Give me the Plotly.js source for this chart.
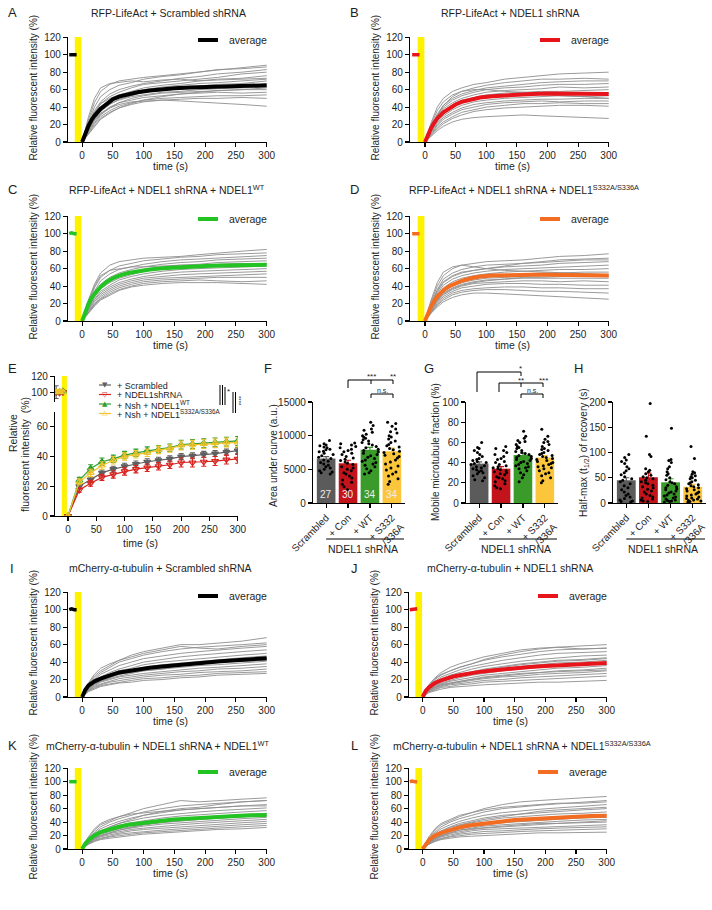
<!DOCTYPE html>
<html><head><meta charset="utf-8">
<script src="https://cdn.plot.ly/plotly-3.0.1.min.js"></script>
<style>html,body{margin:0;padding:0;background:#fff}#chart{width:712px;height:910px}</style>
</head><body><div id="chart"></div>
<script>
// ---------- DATA ----------
const T  = [0,10,20,30,45,60,80,100,130,160,190,220,260,300];
const TA = [0,5,10,15,20,30,40,50,60,75,90,110,130,150,175,200,225,250,275,300];
const preT = [-21,-17,-13,-9];

const A_traces = [
 [0,25,45,58,66,70,72,74,76,78,80,82,85,88],
 [0,22,40,52,60,65,68,72,75,77,80,83,84,86],
 [0,20,36,46,55,60,64,67,70,73,75,78,80,83],
 [0,18,33,44,52,57,62,66,68,70,72,74,78,80],
 [0,17,30,40,48,54,58,62,65,67,70,72,73,76],
 [0,15,28,38,46,52,56,60,63,65,67,68,70,72],
 [0,20,34,44,50,54,57,59,61,63,64,66,67,70],
 [0,14,26,35,43,49,53,57,59,61,62,64,65,66],
 [0,16,28,37,44,48,52,54,57,58,60,61,62,63],
 [0,12,22,31,39,45,50,53,56,57,58,59,60,60],
 [0,13,24,32,40,45,48,51,53,55,56,57,56,57],
 [0,11,21,29,36,41,45,48,50,51,52,53,53,54],
 [0,10,19,27,34,39,43,46,48,49,50,50,51,50],
 [0,14,25,33,39,43,46,47,48,47,46,45,43,41],
 [0,28,50,62,67,68,70,69,71,72,70,71,72,73],
 [0,9,18,26,33,39,44,48,52,55,57,59,60,62]
];
const A_avg = [0,10,18,25,30,38,44,49,52,55,57,59,60.5,61.5,62.5,63,63.5,64,64.5,65];
const A_pre = [100,100,101,100];

const B_traces = [
 [0,22,40,50,58,62,66,68,72,74,76,78,79,80],
 [0,20,36,46,54,58,62,65,68,70,72,72,73,72],
 [0,18,32,42,50,55,59,62,64,66,68,69,70,70],
 [0,17,30,40,48,53,57,60,62,63,65,66,66,67],
 [0,15,28,38,45,50,54,57,59,60,61,63,62,63],
 [0,14,26,35,43,48,51,54,56,57,58,58,59,60],
 [0,13,24,33,40,45,49,52,53,55,55,56,56,56],
 [0,12,22,30,37,42,46,48,50,51,52,53,52,53],
 [0,11,20,28,34,39,43,45,47,48,49,49,50,50],
 [0,10,19,26,32,37,40,43,45,46,47,46,47,47],
 [0,9,17,23,29,34,37,40,42,44,44,45,44,44],
 [0,8,15,21,27,31,35,37,39,40,41,42,42,41],
 [0,7,13,18,23,26,28,29,30,31,30,29,28,27],
 [0,16,30,42,52,58,60,60,58,57,55,53,52,50]
];
const B_avg = [0,9,16,22,27,34,39,43,46,49,51,52.5,53.5,54,55,55.5,55.5,55.5,55,55];
const B_pre = [100,100,99,100];

const C_traces = [
 [0,24,42,55,64,68,70,72,73,74,76,78,80,82],
 [0,20,38,50,58,63,66,69,71,73,74,76,77,78],
 [0,18,34,46,54,59,62,65,68,70,71,72,74,75],
 [0,17,31,42,50,55,59,62,65,67,68,70,71,72],
 [0,16,29,39,47,52,56,59,62,64,65,67,68,69],
 [0,15,27,37,44,49,53,57,60,62,63,64,65,66],
 [0,14,25,34,41,47,51,54,57,59,60,61,62,63],
 [0,13,24,32,39,44,48,51,54,56,57,58,59,60],
 [0,12,22,30,37,42,46,49,51,53,54,55,56,57],
 [0,11,20,28,35,40,44,47,49,50,51,52,53,54],
 [0,10,19,26,33,38,42,45,47,48,49,50,50,50],
 [0,10,18,25,31,36,40,43,45,46,47,46,45,46],
 [0,9,17,24,30,35,39,41,43,44,44,44,43,42],
 [0,22,40,52,58,60,62,62,63,64,64,65,66,65]
];
const C_avg = [0,11,19,26,31,39,45,49,52,55,57,59,60.5,61.5,62,63,63.5,64,64,64.5];
const C_pre = [100,101,100,100];

const D_traces = [
 [0,22,40,52,60,64,66,68,69,70,72,74,75,77],
 [0,20,36,48,55,59,62,64,65,66,68,70,71,72],
 [0,18,33,44,51,55,58,60,62,63,64,66,67,68],
 [0,17,31,41,48,52,55,57,59,60,61,62,63,64],
 [0,16,29,38,45,49,52,54,56,57,58,59,59,60],
 [0,15,27,36,42,46,49,51,53,54,55,55,56,56],
 [0,14,25,34,40,44,47,49,50,51,52,52,52,53],
 [0,13,24,32,38,42,45,47,48,49,49,49,49,49],
 [0,12,22,30,36,40,43,44,45,46,46,45,46,45],
 [0,11,20,28,34,38,40,42,43,43,42,42,41,41],
 [0,10,19,26,32,35,37,38,39,39,38,38,37,37],
 [0,10,18,24,30,33,35,36,36,35,34,34,33,32],
 [0,9,16,22,27,30,32,32,31,30,29,28,27,25],
 [0,24,44,56,62,64,62,60,58,57,56,55,54,53],
 [0,19,35,45,52,56,58,60,63,66,67,68,70,70],
 [0,13,23,31,37,41,44,46,48,50,50,51,52,51]
];
const D_avg = [0,9,17,23,28,35,40,43,46,49,51,52,52.5,53,53,53,52.5,52.5,52,52];
const D_pre = [100,100,99,100];

const I_traces = [
 [0,15,24,30,36,42,48,52,56,60,60,62,64,68],
 [0,14,22,28,34,40,44,48,52,55,57,58,60,62],
 [0,12,20,26,31,36,40,44,47,50,52,54,56,58],
 [0,11,18,23,28,32,36,40,43,46,48,50,52,54],
 [0,10,17,21,26,30,33,37,40,42,44,46,48,50],
 [0,10,16,20,24,28,31,34,37,39,41,43,45,47],
 [0,9,15,19,23,26,29,32,34,36,38,40,42,44],
 [0,9,14,18,21,24,27,30,32,34,36,37,39,41],
 [0,8,13,17,20,23,25,27,29,31,33,34,36,38],
 [0,8,12,15,18,21,23,25,27,29,30,32,33,35],
 [0,7,11,14,17,19,21,23,25,26,28,29,30,32],
 [0,7,10,13,15,17,19,21,22,24,25,27,28,29],
 [0,6,9,12,14,16,17,19,20,22,23,25,26,27],
 [0,16,26,33,38,42,46,50,54,58,56,55,58,60],
 [0,12,18,22,26,28,30,32,35,38,40,42,44,45],
 [0,10,15,18,22,26,28,30,32,36,38,40,41,42]
];
const I_avg = [0,8,13,16,18,21,24,26,28,30,32,33.5,35,36.5,38,39.5,41,42,43.5,44.5];
const I_pre = [100,101,100,100];

const J_traces = [
 [0,14,22,28,34,38,42,46,50,54,56,57,58,60],
 [0,12,20,25,30,34,38,42,46,49,52,54,55,56],
 [0,11,18,23,27,31,35,38,42,45,48,50,51,52],
 [0,10,16,21,25,28,32,35,38,41,43,45,47,48],
 [0,10,15,19,23,26,29,32,35,38,40,42,43,45],
 [0,9,14,18,21,24,27,30,32,35,37,39,40,42],
 [0,8,13,16,19,22,25,27,30,32,34,36,37,39],
 [0,8,12,15,18,20,23,25,27,29,31,33,34,36],
 [0,7,11,14,16,18,21,23,25,27,28,30,31,33],
 [0,7,10,13,15,17,19,21,23,24,26,27,28,30],
 [0,6,9,12,14,15,17,19,20,22,23,24,25,27],
 [0,6,8,11,12,14,15,17,18,19,20,21,22,24],
 [0,5,7,9,11,12,13,14,15,16,17,17,18,19],
 [0,13,21,26,30,34,38,43,48,52,55,57,55,56],
 [0,9,14,18,22,25,28,31,34,37,39,41,42,44],
 [0,8,11,14,16,18,20,22,24,26,28,29,30,31]
];
const J_avg = [0,7,11,14,16,19,21.5,23.5,25,27,28.5,30,31.5,33,34.5,35.5,36.5,37.5,38.5,39];
const J_pre = [100,100,100,101];

const K_traces = [
 [0,16,28,36,42,48,54,60,66,72,70,72,74,76],
 [0,14,25,33,40,45,50,55,60,64,66,68,70,72],
 [0,13,23,30,36,41,46,50,54,58,60,62,64,66],
 [0,12,21,27,33,38,42,46,50,53,55,57,59,61],
 [0,11,19,25,30,35,39,42,46,49,51,53,55,57],
 [0,10,18,23,28,32,36,39,42,45,47,49,51,53],
 [0,10,17,22,26,30,33,36,39,42,44,46,48,50],
 [0,9,16,20,24,28,31,34,37,39,41,43,45,47],
 [0,9,15,19,23,26,29,31,34,36,38,40,42,44],
 [0,8,14,18,21,24,27,29,31,33,35,37,39,41],
 [0,8,13,16,19,22,24,26,28,30,32,34,36,38],
 [0,7,12,15,18,20,22,24,26,28,30,31,33,35],
 [0,7,11,14,16,18,20,22,24,25,27,29,30,32],
 [0,18,30,38,44,48,52,54,56,58,60,62,64,64],
 [0,12,20,26,32,38,44,50,56,60,62,66,70,72],
 [0,10,16,20,24,28,32,36,40,42,44,46,48,49]
];
const K_avg = [0,8,13,17,20,25,28,31,33,36,38,40,42,44,45.5,47,48,49,50,50.5];
const K_pre = [100,100,101,100];

const L_traces = [
 [0,16,28,36,42,48,54,60,66,70,72,74,76,78],
 [0,14,25,33,40,45,50,55,60,63,65,67,70,72],
 [0,13,23,30,36,41,46,50,54,57,59,61,63,66],
 [0,12,21,27,33,38,42,46,50,52,54,56,58,60],
 [0,11,19,25,30,35,39,42,46,48,50,52,53,55],
 [0,10,18,23,28,32,36,39,42,44,46,48,49,51],
 [0,10,17,22,26,30,33,36,39,41,43,44,46,47],
 [0,9,16,20,24,28,31,34,36,38,40,41,43,44],
 [0,9,15,19,23,26,29,31,33,35,36,38,39,40],
 [0,8,14,18,21,24,27,29,30,32,33,34,35,36],
 [0,8,13,16,19,22,24,26,27,29,30,31,32,33],
 [0,7,12,15,18,20,22,23,25,26,27,28,29,30],
 [0,7,11,14,16,18,19,20,22,23,24,24,25,25],
 [0,18,30,38,44,50,54,58,62,64,66,68,68,70],
 [0,12,20,26,32,36,40,44,48,52,56,58,60,62],
 [0,10,16,20,24,28,30,32,34,36,38,38,40,42]
];
const L_avg = [0,8,13,17,20,24,27,30,32,35,37,39,41,43,44.5,46,47,48,49,49.5];
const L_pre = [100,101,100,100];

// Panel E (mean +/- SEM)
const E_T = [0,20,40,60,80,100,120,140,160,180,200,220,240,260,280,300];
const E_preT = [-21,-15,-9];
const E_scr = [0,20,24.5,29,31.5,33.5,35,36.5,37.5,38.5,40,40.5,41.5,42,43,44];
const E_scr_err = [0,1.5,2,2,2,2,2,2,2,2,2,2,2,2,2,2];
const E_scr_pre = [100,100,100]; const E_scr_pre_err = [8,2,1.5];
const E_con = [0,17.5,22,26,28,30,31.5,32.5,33.5,34.5,36,36,36.5,37,38,38.5];
const E_con_err = [0,1.5,2,2,2.5,2.5,2.5,2.5,2.5,2.5,3,3,3,3,3,3];
const E_con_pre = [100,99,100]; const E_con_pre_err = [1.5,1.5,1.5];
const E_wt = [0,24,32,36.5,38.5,41,42.5,44,45,46,48,48.5,49,49.5,50,50.5];
const E_wt_err = [0,2,2.5,2.5,2.5,2.5,2.5,2.5,2.5,2.5,3,3,3,3,3,3];
const E_wt_pre = [100,100,101]; const E_wt_pre_err = [1.5,1.5,1.5];
const E_mut = [0,23,29,34,37.5,40,41.5,42.5,44.5,45.5,47.5,48,48.5,49,49.5,49.5];
const E_mut_err = [0,2,2.5,2.5,2.5,2.5,2.5,2.5,2.5,2.5,3,3,3,3,3,3];
const E_mut_pre = [100,101,100]; const E_mut_pre_err = [1.5,1.5,1.5];
const E_ytick_lo = [0,20,40,60];
const E_ytick_hi = [100,120];

// Bar panels
const CATS = ['Scrambled','+ Con','+ WT','+ S332<br>/336A'];
const F_mean = [6600,5900,7900,7700];
const F_err  = [300,450,350,450];
const F_n    = ['27','30','34','34'];
const F_scr = [9300,8800,8600,8500,8300,8200,8000,7900,7700,7600,7400,7200,7000,6800,6600,6400,6200,6000,5800,5600,5400,5200,5000,4800,4600,4500,4300];
const F_con = [8900,8800,8600,8400,8200,8000,7800,7600,7400,7200,6900,6700,6500,6300,6100,5900,5700,5400,5200,5000,4800,4500,4300,4000,3700,3400,3100,2800,2400,2000];
const F_wt  = [12000,11500,11000,10800,10500,10200,10000,9800,9600,9400,9200,9000,8800,8600,8400,8200,8000,7800,7600,7400,7200,7000,6800,6600,6400,6200,6000,5800,5600,5400,5100,4800,4500,4300];
const F_mut = [12000,11800,11400,11000,10600,10400,10000,9800,9500,9200,9000,8700,8500,8300,8100,7900,7700,7500,7300,7100,6900,6700,6400,6100,5800,5500,5200,4900,4600,4300,4000,3600,3200,2800];

const G_mean = [39,34,47.5,45];
const G_err  = [1.8,2,2,2];
const G_scr = [60,55,54,52,50,48,46,44,43,42,41,40,39,38,37,36,35,34,33,32,31,30,29,27,25,23,22];
const G_con = [56,54,52,50,48,46,44,43,41,40,38,37,36,35,34,33,32,31,30,29,28,26,25,24,22,21,19,17,15,14];
const G_wt  = [71,66,64,62,61,60,58,56,55,54,52,51,50,49,48,47,46,45,44,43,42,41,40,39,38,37,36,35,34,32,30,28,25,21];
const G_mut = [73,66,63,61,60,58,56,54,53,52,50,49,48,47,46,45,44,43,42,41,40,39,38,37,36,35,34,32,30,29,27,25,22,20];

const H_mean = [45,51,41,32];
const H_err  = [5,8,7,5];
const H_scr = [96,90,85,82,78,72,68,64,60,56,52,48,45,42,38,34,30,26,22,18,15,12,9,6,4,3,2];
const H_con = [197,132,96,92,68,65,62,58,55,52,50,48,45,42,40,38,35,32,30,27,24,22,18,15,12,10,8,6,4,3];
const H_wt  = [220,148,86,84,80,72,68,62,58,55,50,46,42,40,38,35,32,30,28,26,24,22,20,18,16,14,12,10,8,6,5,4,3,2];
const H_mut = [112,88,62,60,57,54,52,50,48,45,42,40,38,36,34,32,30,28,26,24,22,20,18,16,14,12,10,9,8,6,5,4,3,2];

// ---------- DRAWING ----------
const W=712, H=910;
const FONT='Liberation Sans, Arial, Helvetica, sans-serif';
const TXT='#1e1e1e';
const px=x=>x/W, py=y=>1-y/H;
const ax=n=>n===1?'':String(n);
const data=[], shapes=[], annotations=[];
const layout={width:W,height:H,margin:{l:0,r:0,t:0,b:0},paper_bgcolor:'#fff',plot_bgcolor:'rgba(0,0,0,0)',
  showlegend:false,barmode:'overlay',font:{family:FONT,size:10,color:TXT}};

function baseAxis(o){return Object.assign({showline:true,linecolor:'#000',linewidth:1.1,ticks:'outside',ticklen:4,
  tickwidth:1.1,tickcolor:'#000',showgrid:false,zeroline:false,fixedrange:true,showticklabels:true,tickmode:'array',
  tickfont:{family:FONT,size:10,color:TXT}},o);}
function fnt(s,c){return {family:FONT,size:s,color:c||TXT};}
function text(x,y,t,o){annotations.push(Object.assign({xref:'paper',yref:'paper',x:px(x),y:py(y),text:t,showarrow:false,
  xanchor:'center',yanchor:'middle',font:fnt(10)},o||{}));}
function seg(x0,y0,x1,y1,o){shapes.push(Object.assign({type:'line',xref:'paper',yref:'paper',x0:px(x0),y0:py(y0),x1:px(x1),y1:py(y1),
  line:{color:'#000',width:1}},o||{}));}

const linePanels=[
 {k:1,L:'A',lx:12,title:'RFP-LifeAct + Scrambled shRNA',tx:168,ty:13,tr:A_traces,avg:A_avg,pre:A_pre,c:'#000000',xd:[68,267],xr:[-23,300.5],yd:[37,142],leg:[198,218,40]},
 {k:2,L:'B',lx:354,title:'RFP-LifeAct + NDEL1 shRNA',tx:510,ty:13,tr:B_traces,avg:B_avg,pre:B_pre,c:'#e8141b',xd:[410,609],xr:[-24.5,300.5],yd:[37,142],leg:[540,560,40]},
 {k:3,L:'C',lx:12,title:'RFP-LifeAct + NDEL1 shRNA + NDEL1<sup>WT</sup>',tx:167,ty:189,tr:C_traces,avg:C_avg,pre:C_pre,c:'#23c323',xd:[68,267],xr:[-23,300.5],yd:[216,321],leg:[198,218,219]},
 {k:4,L:'D',lx:354,title:'RFP-LifeAct + NDEL1 shRNA + NDEL1<sup>S332A/S336A</sup>',tx:524,ty:189,tr:D_traces,avg:D_avg,pre:D_pre,c:'#f26d21',xd:[410,609],xr:[-24.5,300.5],yd:[216,321],leg:[540,560,219]},
 {k:5,L:'I',lx:12,title:'mCherry-α-tubulin + Scrambled shRNA',tx:160,ty:568,tr:I_traces,avg:I_avg,pre:I_pre,c:'#000000',xd:[68,267],xr:[-23,300.5],yd:[592,697],leg:[198,218,596]},
 {k:6,L:'J',lx:354,title:'mCherry-α-tubulin + NDEL1 shRNA',tx:510,ty:568,tr:J_traces,avg:J_avg,pre:J_pre,c:'#e8141b',xd:[409,607],xr:[-22.3,300.5],yd:[592,697],leg:[538,558,596]},
 {k:7,L:'K',lx:12,title:'mCherry-α-tubulin + NDEL1 shRNA + NDEL1<sup>WT</sup>',tx:157,ty:745,tr:K_traces,avg:K_avg,pre:K_pre,c:'#23c323',xd:[68,267],xr:[-23,300.5],yd:[768,849],leg:[198,218,772]},
 {k:8,L:'L',lx:354,title:'mCherry-α-tubulin + NDEL1 shRNA + NDEL1<sup>S332A/S336A</sup>',tx:522,ty:745,tr:L_traces,avg:L_avg,pre:L_pre,c:'#f26d21',xd:[409,607],xr:[-22.3,300.5],yd:[768,849],leg:[538,558,772]}
];

linePanels.forEach(p=>{
  const k=p.k, xa='x'+ax(k), ya='y'+ax(k);
  layout['xaxis'+ax(k)]=baseAxis({domain:[px(p.xd[0]),px(p.xd[1])],range:p.xr,tickvals:[0,50,100,150,200,250,300],anchor:ya});
  layout['yaxis'+ax(k)]=baseAxis({domain:[py(p.yd[1]),py(p.yd[0])],range:[0,120.3],tickvals:[0,20,40,60,80,100,120],anchor:xa});
  shapes.push({type:'rect',xref:xa,yref:ya,x0:-12,x1:-1,y0:0,y1:120.3,fillcolor:'#fff200',line:{width:0},layer:'below'});
  p.tr.forEach(tr=>data.push({type:'scatter',mode:'lines',x:T,y:tr,xaxis:xa,yaxis:ya,line:{color:'#8f8f8f',width:0.9},hoverinfo:'skip'}));
  data.push({type:'scatter',mode:'lines',x:TA,y:p.avg,xaxis:xa,yaxis:ya,line:{color:p.c,width:4},hoverinfo:'skip'});
  data.push({type:'scatter',mode:'lines',x:preT,y:p.pre,xaxis:xa,yaxis:ya,line:{color:p.c,width:3.5},hoverinfo:'skip'});
  text(p.lx,p.ty,p.L,{font:fnt(13)});
  text(p.tx,p.ty,p.title,{font:fnt(10.5)});
  text(p.xd[0]-35,(p.yd[0]+p.yd[1])/2-2,'Relative fluorescent intensity (%)',{textangle:-90,font:fnt(10)});
  text((p.xd[0]+p.xd[1])/2+3,p.yd[1]+24,'time (s)',{font:fnt(10.5)});
  seg(p.leg[0],p.leg[2],p.leg[1],p.leg[2],{line:{color:p.c,width:4}});
  text(p.leg[1]+9,p.leg[2],'average',{xanchor:'left',font:fnt(10.5)});
});

// ---- Panel E (broken y axis): lower subplot x20/y20, upper subplot x21/y21 ----
const E_XD=[px(55),px(238)], E_XR=[-23,300.5];
layout.xaxis20=baseAxis({domain:E_XD,range:E_XR,tickvals:[0,50,100,150,200,250,300],anchor:'y20'});
layout.yaxis20=baseAxis({domain:[py(516),py(412)],range:[0,70],tickvals:E_ytick_lo,ticktext:E_ytick_lo.map(String),anchor:'x20'});
layout.xaxis21=baseAxis({domain:E_XD,range:E_XR,visible:false,anchor:'y21'});
layout.yaxis21=baseAxis({domain:[py(402),py(376)],range:[87.5,120.3],tickvals:E_ytick_hi,ticktext:E_ytick_hi.map(String),anchor:'x21'});
shapes.push({type:'rect',xref:'x20',yref:'paper',x0:-11,x1:-2,y0:py(516),y1:py(376),fillcolor:'#fff200',line:{width:0},layer:'below'});
const Eser=[
 {pre:E_scr_pre,pe:E_scr_pre_err,v:E_scr,e:E_scr_err,c:'#5f5f5f',sym:'triangle-down',name:'+ Scrambled',g:'▼'},
 {pre:E_con_pre,pe:E_con_pre_err,v:E_con,e:E_con_err,c:'#d9231f',sym:'triangle-down-open',name:'+ NDEL1shRNA',g:'▽'},
 {pre:E_wt_pre,pe:E_wt_pre_err,v:E_wt,e:E_wt_err,c:'#2f9e2f',sym:'triangle-up',name:'+ Nsh + NDEL1<sup>WT</sup>',g:'▲'},
 {pre:E_mut_pre,pe:E_mut_pre_err,v:E_mut,e:E_mut_err,c:'#f0c22c',sym:'triangle-up-open',name:'+ Nsh + NDEL1<sup>S332A/S336A</sup>',g:'△'}
];
const legRows=[385,394.5,404,413.5];
Eser.forEach((s,i)=>{
  [['x20','y20'],['x21','y21']].forEach(([xa,ya])=>{
    data.push({type:'scatter',mode:'lines+markers',x:E_preT.concat([null],E_T),y:s.pre.concat([null],s.v),
      xaxis:xa,yaxis:ya,line:{color:s.c,width:1.2},marker:{symbol:s.sym,size:6,color:s.c,line:{color:s.c,width:1.2}},
      error_y:{type:'data',array:s.pe.concat([null],s.e),color:s.c,thickness:1.1,width:2.5},hoverinfo:'skip'});
  });
  seg(99,legRows[i],111,legRows[i],{line:{color:s.c,width:1.2}});
  text(105,legRows[i],s.g,{font:{family:'DejaVu Sans',size:7,color:s.c}});
  text(115,legRows[i]+0.5,s.name,{xanchor:'left',font:fnt(9)});
});
text(12,368,'E',{font:fnt(13)});
text(13,433,'Relative',{textangle:-90,font:fnt(10.5)});
text(25,455,'fluorescent intensity  (%)',{textangle:-90,font:fnt(10.5)});
text(140,543,'time (s)',{font:fnt(10.5)});
// significance marks E
seg(220,385,220,405); seg(222.5,385,222.5,405); seg(225,387,225,405);
text(228,391,'*',{font:fnt(8)});
seg(233,392,233,413); seg(235.5,392,235.5,413);
text(239,401,'****',{textangle:90,font:fnt(6)});

// ---- Bar panels F, G, H ----
const BAR_C=['#5b5b5b','#c3141b','#3a9b2b','#fbc63b'];
const barPanels=[
 {kx:10,ky:11,L:'F',lx:268,xd:[313,405],yr:[0,15000],yt:[0,5000,10000,15000],mean:F_mean,err:F_err,pts:[F_scr,F_con,F_wt,F_mut],
  yt_t:'Area under curve (a.u.)',ytx:273,yty:456},
 {kx:11,ky:12,L:'G',lx:429,xd:[466,558],yr:[0,100],yt:[0,20,40,60,80,100],mean:G_mean,err:G_err,pts:[G_scr,G_con,G_wt,G_mut],
  yt_t:'Mobile microtubule fraction (%)',ytx:435,yty:452},
 {kx:12,ky:13,L:'H',lx:578,xd:[613,706],yr:[0,200],yt:[0,50,100,150,200],mean:H_mean,err:H_err,pts:[H_scr,H_con,H_wt,H_mut],
  yt_t:'Half-max (t<sub>1/2</sub>) of recovery (s)',ytx:584,yty:453}
];
barPanels.forEach(p=>{
  const xa='x'+p.kx, ya='y'+p.ky;
  layout['xaxis'+p.kx]=baseAxis({domain:[px(p.xd[0]),px(p.xd[1])],range:[-0.6,3.6],tickvals:[0,1,2,3],ticktext:CATS,tickangle:-45,anchor:ya,
    tickfont:fnt(10)});
  layout['yaxis'+p.ky]=baseAxis({domain:[py(503),py(402)],range:p.yr,tickvals:p.yt,ticktext:p.yt.map(String),anchor:xa});
  p.mean.forEach((m,i)=>{
    data.push({type:'bar',x:[i],y:[m],xaxis:xa,yaxis:ya,width:0.85,marker:{color:BAR_C[i],line:{width:0}},
      error_y:{type:'data',array:[p.err[i]],color:BAR_C[i],thickness:1.2,width:3},hoverinfo:'skip'});
  });
  const bx=[], by=[];
  p.pts.forEach((arr,i)=>arr.forEach(v=>{bx.push(i);by.push(v);}));
  data.push({type:'box',x:bx,y:by,xaxis:xa,yaxis:ya,boxpoints:'all',jitter:0.9,pointpos:0,width:0.85,
    fillcolor:'rgba(0,0,0,0)',line:{color:'rgba(0,0,0,0)',width:0},whiskerwidth:0,
    marker:{color:'#000',size:3},hoverinfo:'skip'});
  text(p.lx,368,p.L,{font:fnt(13)});
  text(p.ytx,p.yty,p.yt_t,{textangle:-90,font:fnt(10)});
  const c0=p.xd[0]+0.6*(p.xd[1]-p.xd[0])/4.2;
  seg(c0,539,p.xd[1]-1,539);
  text(c0+37,549,'NDEL1 shRNA',{font:fnt(10.5)});
});
F_n.forEach((n,i)=>annotations.push({xref:'x10',yref:'y11',x:i,y:1200,text:n,showarrow:false,
  font:fnt(10,'#ececec')}));

// significance brackets F
seg(348,380,393,380); seg(348,380,348,388); seg(371,380,371,384); seg(393,380,393,384);
text(371,376,'***',{font:fnt(8)});
text(393,376,'**',{font:fnt(8)});
seg(371,394,393,394); seg(371,394,371,398); seg(393,394,393,398);
text(382,390,'n.s.',{font:fnt(7)});
// significance brackets G
seg(477,372,521,372); seg(477,372,477,392); seg(521,372,521,376);
text(520,368,'*',{font:fnt(8)});
seg(499,383,543,383); seg(499,383,499,392); seg(521,383,521,387); seg(543,383,543,387);
text(521,380,'**',{font:fnt(8)});
text(543,380,'***',{font:fnt(8)});
seg(521,394,543,394); seg(521,394,521,398); seg(543,394,543,398);
text(532,390,'n.s.',{font:fnt(7)});

layout.shapes=shapes; layout.annotations=annotations;
Plotly.newPlot('chart',data,layout,{staticPlot:true});
</script></body></html>
